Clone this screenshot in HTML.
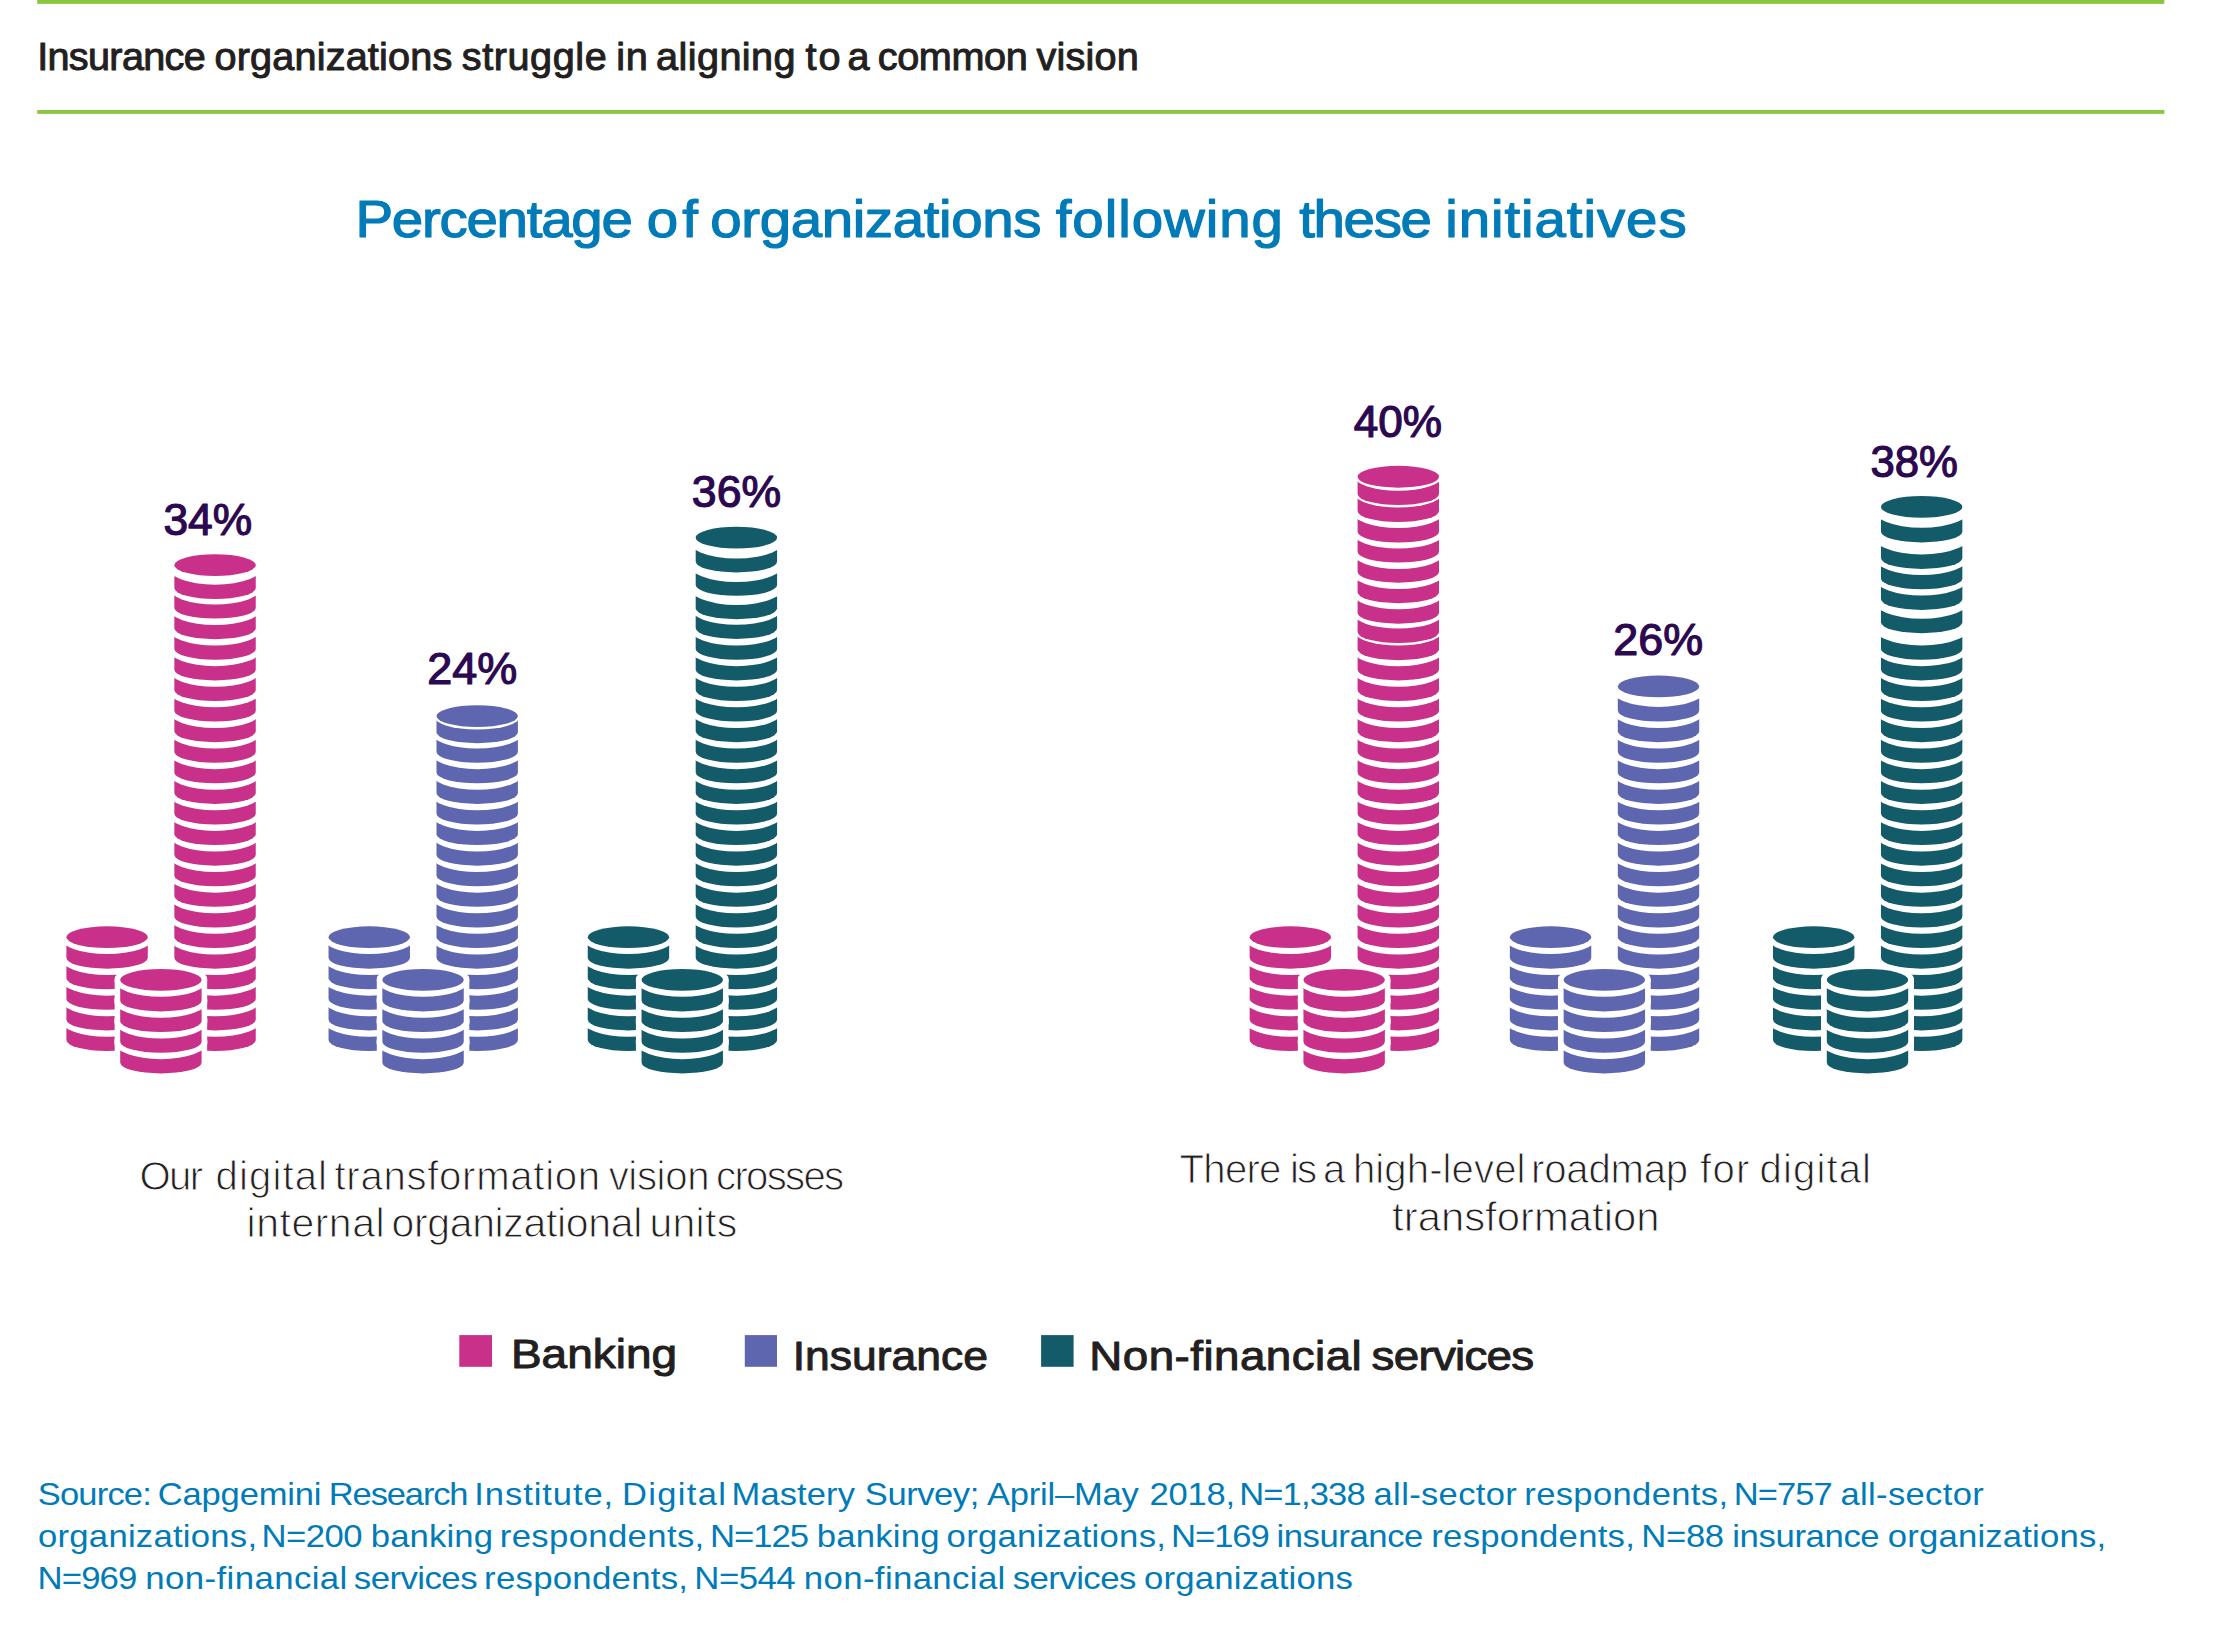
<!DOCTYPE html>
<html lang="en">
<head>
<meta charset="utf-8">
<title>Insurance organizations struggle in aligning to a common vision</title>
<style>
html,body{margin:0;padding:0;background:#fff;}
body{width:2225px;height:1642px;overflow:hidden;}
svg{display:block;}
text{font-family:"Liberation Sans",sans-serif;white-space:pre;}
text.med{stroke-width:1.0px;stroke-linejoin:round;}
text.med2{stroke-width:1.2px;stroke-linejoin:round;}
text.light{stroke:#fff;stroke-width:1.0px;paint-order:fill stroke;}
</style>
</head>
<body>
<svg width="2225" height="1642" viewBox="0 0 2225 1642">
<rect width="2225" height="1642" fill="#fff"/>
<rect x="37.2" y="0" width="2127.1" height="3.9" fill="#8CC63F"/>
<rect x="37.2" y="110" width="2127.1" height="3.9" fill="#8CC63F"/>
<defs><clipPath id="fc"><rect x="-46.5" y="900" width="93" height="200"/></clipPath></defs>
<g id="coins">
<g transform="translate(215.05 0)" fill="#C9308A">
<path d="M-40.7 1019.51 V1040.1 A40.7 10.9 0 0 0 40.7 1040.1 V1019.51 Z"/>
<ellipse fill="#fff" cy="1019.51" rx="47.1" ry="17.3"/>
<path d="M-40.7 998.92 V1019.51 A40.7 10.9 0 0 0 40.7 1019.51 V998.92 Z"/>
<ellipse fill="#fff" cy="998.92" rx="47.1" ry="17.3"/>
<path d="M-40.7 978.33 V998.92 A40.7 10.9 0 0 0 40.7 998.92 V978.33 Z"/>
<ellipse fill="#fff" cy="978.33" rx="47.1" ry="17.3"/>
<path d="M-40.7 957.74 V978.33 A40.7 10.9 0 0 0 40.7 978.33 V957.74 Z"/>
<ellipse fill="#fff" cy="957.74" rx="47.1" ry="17.3"/>
<path d="M-40.7 937.15 V957.74 A40.7 10.9 0 0 0 40.7 957.74 V937.15 Z"/>
<ellipse fill="#fff" cy="937.15" rx="47.1" ry="17.3"/>
<path d="M-40.7 916.56 V937.15 A40.7 10.9 0 0 0 40.7 937.15 V916.56 Z"/>
<ellipse fill="#fff" cy="916.56" rx="47.1" ry="17.3"/>
<path d="M-40.7 895.97 V916.56 A40.7 10.9 0 0 0 40.7 916.56 V895.97 Z"/>
<ellipse fill="#fff" cy="895.97" rx="47.1" ry="17.3"/>
<path d="M-40.7 875.38 V895.97 A40.7 10.9 0 0 0 40.7 895.97 V875.38 Z"/>
<ellipse fill="#fff" cy="875.38" rx="47.1" ry="17.3"/>
<path d="M-40.7 854.79 V875.38 A40.7 10.9 0 0 0 40.7 875.38 V854.79 Z"/>
<ellipse fill="#fff" cy="854.79" rx="47.1" ry="17.3"/>
<path d="M-40.7 834.2 V854.79 A40.7 10.9 0 0 0 40.7 854.79 V834.2 Z"/>
<ellipse fill="#fff" cy="834.2" rx="47.1" ry="17.3"/>
<path d="M-40.7 813.61 V834.2 A40.7 10.9 0 0 0 40.7 834.2 V813.61 Z"/>
<ellipse fill="#fff" cy="813.61" rx="47.1" ry="17.3"/>
<path d="M-40.7 793.02 V813.61 A40.7 10.9 0 0 0 40.7 813.61 V793.02 Z"/>
<ellipse fill="#fff" cy="793.02" rx="47.1" ry="17.3"/>
<path d="M-40.7 772.43 V793.02 A40.7 10.9 0 0 0 40.7 793.02 V772.43 Z"/>
<ellipse fill="#fff" cy="772.43" rx="47.1" ry="17.3"/>
<path d="M-40.7 751.84 V772.43 A40.7 10.9 0 0 0 40.7 772.43 V751.84 Z"/>
<ellipse fill="#fff" cy="751.84" rx="47.1" ry="17.3"/>
<path d="M-40.7 731.25 V751.84 A40.7 10.9 0 0 0 40.7 751.84 V731.25 Z"/>
<ellipse fill="#fff" cy="731.25" rx="47.1" ry="17.3"/>
<path d="M-40.7 710.66 V731.25 A40.7 10.9 0 0 0 40.7 731.25 V710.66 Z"/>
<ellipse fill="#fff" cy="710.66" rx="47.1" ry="17.3"/>
<path d="M-40.7 690.07 V710.66 A40.7 10.9 0 0 0 40.7 710.66 V690.07 Z"/>
<ellipse fill="#fff" cy="690.07" rx="47.1" ry="17.3"/>
<path d="M-40.7 669.48 V690.07 A40.7 10.9 0 0 0 40.7 690.07 V669.48 Z"/>
<ellipse fill="#fff" cy="669.48" rx="47.1" ry="17.3"/>
<path d="M-40.7 648.89 V669.48 A40.7 10.9 0 0 0 40.7 669.48 V648.89 Z"/>
<ellipse fill="#fff" cy="648.89" rx="47.1" ry="17.3"/>
<path d="M-40.7 628.3 V648.89 A40.7 10.9 0 0 0 40.7 648.89 V628.3 Z"/>
<ellipse fill="#fff" cy="628.3" rx="47.1" ry="17.3"/>
<path d="M-40.7 607.71 V628.3 A40.7 10.9 0 0 0 40.7 628.3 V607.71 Z"/>
<ellipse fill="#fff" cy="607.71" rx="47.1" ry="17.3"/>
<path d="M-40.7 588.06 V607.71 A40.7 10.9 0 0 0 40.7 607.71 V588.06 Z"/>
<ellipse fill="#fff" cy="588.06" rx="46.16" ry="16.36"/>
<path d="M-40.7 565.15 V588.06 A40.7 10.9 0 0 0 40.7 588.06 V565.15 Z"/>
<ellipse fill="#fff" cy="565.15" rx="49.3" ry="19.5"/>
<ellipse cy="565.15" rx="40.7" ry="10.9"/>
</g>
<g transform="translate(107.1 0)" fill="#C9308A">
<path d="M-40.7 1019.51 V1040.1 A40.7 10.9 0 0 0 40.7 1040.1 V1019.51 Z"/>
<ellipse fill="#fff" cy="1019.51" rx="47.1" ry="17.3"/>
<path d="M-40.7 998.92 V1019.51 A40.7 10.9 0 0 0 40.7 1019.51 V998.92 Z"/>
<ellipse fill="#fff" cy="998.92" rx="47.1" ry="17.3"/>
<path d="M-40.7 978.33 V998.92 A40.7 10.9 0 0 0 40.7 998.92 V978.33 Z"/>
<ellipse fill="#fff" cy="978.33" rx="47.1" ry="17.3"/>
<path d="M-40.7 957.74 V978.33 A40.7 10.9 0 0 0 40.7 978.33 V957.74 Z"/>
<ellipse fill="#fff" cy="957.74" rx="47.1" ry="17.3"/>
<path d="M-40.7 937.2 V957.74 A40.7 10.9 0 0 0 40.7 957.74 V937.2 Z"/>
<ellipse fill="#fff" cy="937.2" rx="46.7" ry="16.9"/>
<ellipse cy="937.2" rx="40.7" ry="10.9"/>
</g>
<g transform="translate(160.9 0)" fill="#C9308A" clip-path="url(#fc)">
<path fill="#fff" d="M-46.5 979.9 V1062.5 A46.5 16.7 0 0 0 46.5 1062.5 V979.9 Z"/>
<path d="M-40.7 1041.85 V1062.5 A40.7 10.9 0 0 0 40.7 1062.5 V1041.85 Z"/>
<ellipse fill="#fff" cy="1041.85" rx="47.1" ry="17.3"/>
<path d="M-40.7 1021.2 V1041.85 A40.7 10.9 0 0 0 40.7 1041.85 V1021.2 Z"/>
<ellipse fill="#fff" cy="1021.2" rx="47.1" ry="17.3"/>
<path d="M-40.7 1000.55 V1021.2 A40.7 10.9 0 0 0 40.7 1021.2 V1000.55 Z"/>
<ellipse fill="#fff" cy="1000.55" rx="47.1" ry="17.3"/>
<path d="M-40.7 979.9 V1000.55 A40.7 10.9 0 0 0 40.7 1000.55 V979.9 Z"/>
<ellipse fill="#fff" cy="979.9" rx="46.75" ry="16.95"/>
<ellipse cy="979.9" rx="40.7" ry="10.9"/>
</g>
<g transform="translate(477.2 0)" fill="#5E66AF">
<path d="M-40.7 1019.51 V1040.1 A40.7 10.9 0 0 0 40.7 1040.1 V1019.51 Z"/>
<ellipse fill="#fff" cy="1019.51" rx="47.1" ry="17.3"/>
<path d="M-40.7 998.92 V1019.51 A40.7 10.9 0 0 0 40.7 1019.51 V998.92 Z"/>
<ellipse fill="#fff" cy="998.92" rx="47.1" ry="17.3"/>
<path d="M-40.7 978.33 V998.92 A40.7 10.9 0 0 0 40.7 998.92 V978.33 Z"/>
<ellipse fill="#fff" cy="978.33" rx="47.1" ry="17.3"/>
<path d="M-40.7 957.74 V978.33 A40.7 10.9 0 0 0 40.7 978.33 V957.74 Z"/>
<ellipse fill="#fff" cy="957.74" rx="47.1" ry="17.3"/>
<path d="M-40.7 937.15 V957.74 A40.7 10.9 0 0 0 40.7 957.74 V937.15 Z"/>
<ellipse fill="#fff" cy="937.15" rx="47.1" ry="17.3"/>
<path d="M-40.7 916.56 V937.15 A40.7 10.9 0 0 0 40.7 937.15 V916.56 Z"/>
<ellipse fill="#fff" cy="916.56" rx="47.1" ry="17.3"/>
<path d="M-40.7 895.97 V916.56 A40.7 10.9 0 0 0 40.7 916.56 V895.97 Z"/>
<ellipse fill="#fff" cy="895.97" rx="47.1" ry="17.3"/>
<path d="M-40.7 875.38 V895.97 A40.7 10.9 0 0 0 40.7 895.97 V875.38 Z"/>
<ellipse fill="#fff" cy="875.38" rx="47.1" ry="17.3"/>
<path d="M-40.7 854.79 V875.38 A40.7 10.9 0 0 0 40.7 875.38 V854.79 Z"/>
<ellipse fill="#fff" cy="854.79" rx="47.1" ry="17.3"/>
<path d="M-40.7 834.2 V854.79 A40.7 10.9 0 0 0 40.7 854.79 V834.2 Z"/>
<ellipse fill="#fff" cy="834.2" rx="47.1" ry="17.3"/>
<path d="M-40.7 813.61 V834.2 A40.7 10.9 0 0 0 40.7 834.2 V813.61 Z"/>
<ellipse fill="#fff" cy="813.61" rx="47.1" ry="17.3"/>
<path d="M-40.7 793.02 V813.61 A40.7 10.9 0 0 0 40.7 813.61 V793.02 Z"/>
<ellipse fill="#fff" cy="793.02" rx="47.1" ry="17.3"/>
<path d="M-40.7 772.43 V793.02 A40.7 10.9 0 0 0 40.7 793.02 V772.43 Z"/>
<ellipse fill="#fff" cy="772.43" rx="47.1" ry="17.3"/>
<path d="M-40.7 751.84 V772.43 A40.7 10.9 0 0 0 40.7 772.43 V751.84 Z"/>
<ellipse fill="#fff" cy="751.84" rx="47.1" ry="17.3"/>
<path d="M-40.7 732.3 V751.84 A40.7 10.9 0 0 0 40.7 751.84 V732.3 Z"/>
<ellipse fill="#fff" cy="732.3" rx="46.05" ry="16.25"/>
<path d="M-40.7 716.1 V732.3 A40.7 10.9 0 0 0 40.7 732.3 V716.1 Z"/>
<ellipse fill="#fff" cy="716.1" rx="43.3" ry="13.5"/>
<ellipse cy="716.1" rx="40.7" ry="10.9"/>
</g>
<g transform="translate(369.25 0)" fill="#5E66AF">
<path d="M-40.7 1019.51 V1040.1 A40.7 10.9 0 0 0 40.7 1040.1 V1019.51 Z"/>
<ellipse fill="#fff" cy="1019.51" rx="47.1" ry="17.3"/>
<path d="M-40.7 998.92 V1019.51 A40.7 10.9 0 0 0 40.7 1019.51 V998.92 Z"/>
<ellipse fill="#fff" cy="998.92" rx="47.1" ry="17.3"/>
<path d="M-40.7 978.33 V998.92 A40.7 10.9 0 0 0 40.7 998.92 V978.33 Z"/>
<ellipse fill="#fff" cy="978.33" rx="47.1" ry="17.3"/>
<path d="M-40.7 957.74 V978.33 A40.7 10.9 0 0 0 40.7 978.33 V957.74 Z"/>
<ellipse fill="#fff" cy="957.74" rx="47.1" ry="17.3"/>
<path d="M-40.7 937.2 V957.74 A40.7 10.9 0 0 0 40.7 957.74 V937.2 Z"/>
<ellipse fill="#fff" cy="937.2" rx="46.7" ry="16.9"/>
<ellipse cy="937.2" rx="40.7" ry="10.9"/>
</g>
<g transform="translate(423.05 0)" fill="#5E66AF" clip-path="url(#fc)">
<path fill="#fff" d="M-46.5 979.9 V1062.5 A46.5 16.7 0 0 0 46.5 1062.5 V979.9 Z"/>
<path d="M-40.7 1041.85 V1062.5 A40.7 10.9 0 0 0 40.7 1062.5 V1041.85 Z"/>
<ellipse fill="#fff" cy="1041.85" rx="47.1" ry="17.3"/>
<path d="M-40.7 1021.2 V1041.85 A40.7 10.9 0 0 0 40.7 1041.85 V1021.2 Z"/>
<ellipse fill="#fff" cy="1021.2" rx="47.1" ry="17.3"/>
<path d="M-40.7 1000.55 V1021.2 A40.7 10.9 0 0 0 40.7 1021.2 V1000.55 Z"/>
<ellipse fill="#fff" cy="1000.55" rx="47.1" ry="17.3"/>
<path d="M-40.7 979.9 V1000.55 A40.7 10.9 0 0 0 40.7 1000.55 V979.9 Z"/>
<ellipse fill="#fff" cy="979.9" rx="46.75" ry="16.95"/>
<ellipse cy="979.9" rx="40.7" ry="10.9"/>
</g>
<g transform="translate(736.4 0)" fill="#145B69">
<path d="M-40.7 1019.51 V1040.1 A40.7 10.9 0 0 0 40.7 1040.1 V1019.51 Z"/>
<ellipse fill="#fff" cy="1019.51" rx="47.1" ry="17.3"/>
<path d="M-40.7 998.92 V1019.51 A40.7 10.9 0 0 0 40.7 1019.51 V998.92 Z"/>
<ellipse fill="#fff" cy="998.92" rx="47.1" ry="17.3"/>
<path d="M-40.7 978.33 V998.92 A40.7 10.9 0 0 0 40.7 998.92 V978.33 Z"/>
<ellipse fill="#fff" cy="978.33" rx="47.1" ry="17.3"/>
<path d="M-40.7 957.74 V978.33 A40.7 10.9 0 0 0 40.7 978.33 V957.74 Z"/>
<ellipse fill="#fff" cy="957.74" rx="47.1" ry="17.3"/>
<path d="M-40.7 937.15 V957.74 A40.7 10.9 0 0 0 40.7 957.74 V937.15 Z"/>
<ellipse fill="#fff" cy="937.15" rx="47.1" ry="17.3"/>
<path d="M-40.7 916.56 V937.15 A40.7 10.9 0 0 0 40.7 937.15 V916.56 Z"/>
<ellipse fill="#fff" cy="916.56" rx="47.1" ry="17.3"/>
<path d="M-40.7 895.97 V916.56 A40.7 10.9 0 0 0 40.7 916.56 V895.97 Z"/>
<ellipse fill="#fff" cy="895.97" rx="47.1" ry="17.3"/>
<path d="M-40.7 875.38 V895.97 A40.7 10.9 0 0 0 40.7 895.97 V875.38 Z"/>
<ellipse fill="#fff" cy="875.38" rx="47.1" ry="17.3"/>
<path d="M-40.7 854.79 V875.38 A40.7 10.9 0 0 0 40.7 875.38 V854.79 Z"/>
<ellipse fill="#fff" cy="854.79" rx="47.1" ry="17.3"/>
<path d="M-40.7 834.2 V854.79 A40.7 10.9 0 0 0 40.7 854.79 V834.2 Z"/>
<ellipse fill="#fff" cy="834.2" rx="47.1" ry="17.3"/>
<path d="M-40.7 813.61 V834.2 A40.7 10.9 0 0 0 40.7 834.2 V813.61 Z"/>
<ellipse fill="#fff" cy="813.61" rx="47.1" ry="17.3"/>
<path d="M-40.7 793.02 V813.61 A40.7 10.9 0 0 0 40.7 813.61 V793.02 Z"/>
<ellipse fill="#fff" cy="793.02" rx="47.1" ry="17.3"/>
<path d="M-40.7 772.43 V793.02 A40.7 10.9 0 0 0 40.7 793.02 V772.43 Z"/>
<ellipse fill="#fff" cy="772.43" rx="47.1" ry="17.3"/>
<path d="M-40.7 751.84 V772.43 A40.7 10.9 0 0 0 40.7 772.43 V751.84 Z"/>
<ellipse fill="#fff" cy="751.84" rx="47.1" ry="17.3"/>
<path d="M-40.7 731.25 V751.84 A40.7 10.9 0 0 0 40.7 751.84 V731.25 Z"/>
<ellipse fill="#fff" cy="731.25" rx="47.1" ry="17.3"/>
<path d="M-40.7 710.66 V731.25 A40.7 10.9 0 0 0 40.7 731.25 V710.66 Z"/>
<ellipse fill="#fff" cy="710.66" rx="47.1" ry="17.3"/>
<path d="M-40.7 690.07 V710.66 A40.7 10.9 0 0 0 40.7 710.66 V690.07 Z"/>
<ellipse fill="#fff" cy="690.07" rx="47.1" ry="17.3"/>
<path d="M-40.7 669.48 V690.07 A40.7 10.9 0 0 0 40.7 690.07 V669.48 Z"/>
<ellipse fill="#fff" cy="669.48" rx="47.1" ry="17.3"/>
<path d="M-40.7 648.89 V669.48 A40.7 10.9 0 0 0 40.7 669.48 V648.89 Z"/>
<ellipse fill="#fff" cy="648.89" rx="47.1" ry="17.3"/>
<path d="M-40.7 628 V648.89 A40.7 10.9 0 0 0 40.7 648.89 V628 Z"/>
<ellipse fill="#fff" cy="628" rx="47.4" ry="17.6"/>
<path d="M-40.7 608.3 V628 A40.7 10.9 0 0 0 40.7 628 V608.3 Z"/>
<ellipse fill="#fff" cy="608.3" rx="46.2" ry="16.4"/>
<path d="M-40.7 584.95 V608.3 A40.7 10.9 0 0 0 40.7 608.3 V584.95 Z"/>
<ellipse fill="#fff" cy="584.95" rx="49.75" ry="19.95"/>
<path d="M-40.7 561.5 V584.95 A40.7 10.9 0 0 0 40.7 584.95 V561.5 Z"/>
<ellipse fill="#fff" cy="561.5" rx="50.3" ry="20.5"/>
<path d="M-40.7 537.65 V561.5 A40.7 10.9 0 0 0 40.7 561.5 V537.65 Z"/>
<ellipse fill="#fff" cy="537.65" rx="50.75" ry="20.95"/>
<ellipse cy="537.65" rx="40.7" ry="10.9"/>
</g>
<g transform="translate(628.45 0)" fill="#145B69">
<path d="M-40.7 1019.51 V1040.1 A40.7 10.9 0 0 0 40.7 1040.1 V1019.51 Z"/>
<ellipse fill="#fff" cy="1019.51" rx="47.1" ry="17.3"/>
<path d="M-40.7 998.92 V1019.51 A40.7 10.9 0 0 0 40.7 1019.51 V998.92 Z"/>
<ellipse fill="#fff" cy="998.92" rx="47.1" ry="17.3"/>
<path d="M-40.7 978.33 V998.92 A40.7 10.9 0 0 0 40.7 998.92 V978.33 Z"/>
<ellipse fill="#fff" cy="978.33" rx="47.1" ry="17.3"/>
<path d="M-40.7 957.74 V978.33 A40.7 10.9 0 0 0 40.7 978.33 V957.74 Z"/>
<ellipse fill="#fff" cy="957.74" rx="47.1" ry="17.3"/>
<path d="M-40.7 937.2 V957.74 A40.7 10.9 0 0 0 40.7 957.74 V937.2 Z"/>
<ellipse fill="#fff" cy="937.2" rx="46.7" ry="16.9"/>
<ellipse cy="937.2" rx="40.7" ry="10.9"/>
</g>
<g transform="translate(682.25 0)" fill="#145B69" clip-path="url(#fc)">
<path fill="#fff" d="M-46.5 979.9 V1062.5 A46.5 16.7 0 0 0 46.5 1062.5 V979.9 Z"/>
<path d="M-40.7 1041.85 V1062.5 A40.7 10.9 0 0 0 40.7 1062.5 V1041.85 Z"/>
<ellipse fill="#fff" cy="1041.85" rx="47.1" ry="17.3"/>
<path d="M-40.7 1021.2 V1041.85 A40.7 10.9 0 0 0 40.7 1041.85 V1021.2 Z"/>
<ellipse fill="#fff" cy="1021.2" rx="47.1" ry="17.3"/>
<path d="M-40.7 1000.55 V1021.2 A40.7 10.9 0 0 0 40.7 1021.2 V1000.55 Z"/>
<ellipse fill="#fff" cy="1000.55" rx="47.1" ry="17.3"/>
<path d="M-40.7 979.9 V1000.55 A40.7 10.9 0 0 0 40.7 1000.55 V979.9 Z"/>
<ellipse fill="#fff" cy="979.9" rx="46.75" ry="16.95"/>
<ellipse cy="979.9" rx="40.7" ry="10.9"/>
</g>
<g transform="translate(1398.3 0)" fill="#C9308A">
<path d="M-40.7 1019.51 V1040.1 A40.7 10.9 0 0 0 40.7 1040.1 V1019.51 Z"/>
<ellipse fill="#fff" cy="1019.51" rx="47.1" ry="17.3"/>
<path d="M-40.7 998.92 V1019.51 A40.7 10.9 0 0 0 40.7 1019.51 V998.92 Z"/>
<ellipse fill="#fff" cy="998.92" rx="47.1" ry="17.3"/>
<path d="M-40.7 978.33 V998.92 A40.7 10.9 0 0 0 40.7 998.92 V978.33 Z"/>
<ellipse fill="#fff" cy="978.33" rx="47.1" ry="17.3"/>
<path d="M-40.7 957.74 V978.33 A40.7 10.9 0 0 0 40.7 978.33 V957.74 Z"/>
<ellipse fill="#fff" cy="957.74" rx="47.1" ry="17.3"/>
<path d="M-40.7 937.15 V957.74 A40.7 10.9 0 0 0 40.7 957.74 V937.15 Z"/>
<ellipse fill="#fff" cy="937.15" rx="47.1" ry="17.3"/>
<path d="M-40.7 916.56 V937.15 A40.7 10.9 0 0 0 40.7 937.15 V916.56 Z"/>
<ellipse fill="#fff" cy="916.56" rx="47.1" ry="17.3"/>
<path d="M-40.7 895.97 V916.56 A40.7 10.9 0 0 0 40.7 916.56 V895.97 Z"/>
<ellipse fill="#fff" cy="895.97" rx="47.1" ry="17.3"/>
<path d="M-40.7 875.38 V895.97 A40.7 10.9 0 0 0 40.7 895.97 V875.38 Z"/>
<ellipse fill="#fff" cy="875.38" rx="47.1" ry="17.3"/>
<path d="M-40.7 854.79 V875.38 A40.7 10.9 0 0 0 40.7 875.38 V854.79 Z"/>
<ellipse fill="#fff" cy="854.79" rx="47.1" ry="17.3"/>
<path d="M-40.7 834.2 V854.79 A40.7 10.9 0 0 0 40.7 854.79 V834.2 Z"/>
<ellipse fill="#fff" cy="834.2" rx="47.1" ry="17.3"/>
<path d="M-40.7 813.61 V834.2 A40.7 10.9 0 0 0 40.7 834.2 V813.61 Z"/>
<ellipse fill="#fff" cy="813.61" rx="47.1" ry="17.3"/>
<path d="M-40.7 793.02 V813.61 A40.7 10.9 0 0 0 40.7 813.61 V793.02 Z"/>
<ellipse fill="#fff" cy="793.02" rx="47.1" ry="17.3"/>
<path d="M-40.7 772.43 V793.02 A40.7 10.9 0 0 0 40.7 793.02 V772.43 Z"/>
<ellipse fill="#fff" cy="772.43" rx="47.1" ry="17.3"/>
<path d="M-40.7 751.84 V772.43 A40.7 10.9 0 0 0 40.7 772.43 V751.84 Z"/>
<ellipse fill="#fff" cy="751.84" rx="47.1" ry="17.3"/>
<path d="M-40.7 731.25 V751.84 A40.7 10.9 0 0 0 40.7 751.84 V731.25 Z"/>
<ellipse fill="#fff" cy="731.25" rx="47.1" ry="17.3"/>
<path d="M-40.7 710.66 V731.25 A40.7 10.9 0 0 0 40.7 731.25 V710.66 Z"/>
<ellipse fill="#fff" cy="710.66" rx="47.1" ry="17.3"/>
<path d="M-40.7 690.07 V710.66 A40.7 10.9 0 0 0 40.7 710.66 V690.07 Z"/>
<ellipse fill="#fff" cy="690.07" rx="47.1" ry="17.3"/>
<path d="M-40.7 669.48 V690.07 A40.7 10.9 0 0 0 40.7 690.07 V669.48 Z"/>
<ellipse fill="#fff" cy="669.48" rx="47.1" ry="17.3"/>
<path d="M-40.7 649.3 V669.48 A40.7 10.9 0 0 0 40.7 669.48 V649.3 Z"/>
<ellipse fill="#fff" cy="649.3" rx="46.69" ry="16.89"/>
<path d="M-40.7 632.1 V649.3 A40.7 10.9 0 0 0 40.7 649.3 V632.1 Z"/>
<ellipse fill="#fff" cy="632.1" rx="43.2" ry="13.4"/>
<path d="M-40.7 612.8 V632.1 A40.7 10.9 0 0 0 40.7 632.1 V612.8 Z"/>
<ellipse fill="#fff" cy="612.8" rx="45.5" ry="15.7"/>
<path d="M-40.7 592.25 V612.8 A40.7 10.9 0 0 0 40.7 612.8 V592.25 Z"/>
<ellipse fill="#fff" cy="592.25" rx="46.75" ry="16.95"/>
<path d="M-40.7 571.8 V592.25 A40.7 10.9 0 0 0 40.7 592.25 V571.8 Z"/>
<ellipse fill="#fff" cy="571.8" rx="47.1" ry="17.3"/>
<path d="M-40.7 551.7 V571.8 A40.7 10.9 0 0 0 40.7 571.8 V551.7 Z"/>
<ellipse fill="#fff" cy="551.7" rx="47.1" ry="17.3"/>
<path d="M-40.7 531.7 V551.7 A40.7 10.9 0 0 0 40.7 551.7 V531.7 Z"/>
<ellipse fill="#fff" cy="531.7" rx="46.7" ry="16.9"/>
<path d="M-40.7 511.1 V531.7 A40.7 10.9 0 0 0 40.7 531.7 V511.1 Z"/>
<ellipse fill="#fff" cy="511.1" rx="46.7" ry="16.9"/>
<path d="M-40.7 494.1 V511.1 A40.7 10.9 0 0 0 40.7 511.1 V494.1 Z"/>
<ellipse fill="#fff" cy="494.1" rx="43.1" ry="13.3"/>
<path d="M-40.7 476.75 V494.1 A40.7 10.9 0 0 0 40.7 494.1 V476.75 Z"/>
<ellipse fill="#fff" cy="476.75" rx="43.75" ry="13.95"/>
<ellipse cy="476.75" rx="40.7" ry="10.9"/>
</g>
<g transform="translate(1290.35 0)" fill="#C9308A">
<path d="M-40.7 1019.51 V1040.1 A40.7 10.9 0 0 0 40.7 1040.1 V1019.51 Z"/>
<ellipse fill="#fff" cy="1019.51" rx="47.1" ry="17.3"/>
<path d="M-40.7 998.92 V1019.51 A40.7 10.9 0 0 0 40.7 1019.51 V998.92 Z"/>
<ellipse fill="#fff" cy="998.92" rx="47.1" ry="17.3"/>
<path d="M-40.7 978.33 V998.92 A40.7 10.9 0 0 0 40.7 998.92 V978.33 Z"/>
<ellipse fill="#fff" cy="978.33" rx="47.1" ry="17.3"/>
<path d="M-40.7 957.74 V978.33 A40.7 10.9 0 0 0 40.7 978.33 V957.74 Z"/>
<ellipse fill="#fff" cy="957.74" rx="47.1" ry="17.3"/>
<path d="M-40.7 937.2 V957.74 A40.7 10.9 0 0 0 40.7 957.74 V937.2 Z"/>
<ellipse fill="#fff" cy="937.2" rx="46.7" ry="16.9"/>
<ellipse cy="937.2" rx="40.7" ry="10.9"/>
</g>
<g transform="translate(1344.15 0)" fill="#C9308A" clip-path="url(#fc)">
<path fill="#fff" d="M-46.5 979.9 V1062.5 A46.5 16.7 0 0 0 46.5 1062.5 V979.9 Z"/>
<path d="M-40.7 1041.85 V1062.5 A40.7 10.9 0 0 0 40.7 1062.5 V1041.85 Z"/>
<ellipse fill="#fff" cy="1041.85" rx="47.1" ry="17.3"/>
<path d="M-40.7 1021.2 V1041.85 A40.7 10.9 0 0 0 40.7 1041.85 V1021.2 Z"/>
<ellipse fill="#fff" cy="1021.2" rx="47.1" ry="17.3"/>
<path d="M-40.7 1000.55 V1021.2 A40.7 10.9 0 0 0 40.7 1021.2 V1000.55 Z"/>
<ellipse fill="#fff" cy="1000.55" rx="47.1" ry="17.3"/>
<path d="M-40.7 979.9 V1000.55 A40.7 10.9 0 0 0 40.7 1000.55 V979.9 Z"/>
<ellipse fill="#fff" cy="979.9" rx="46.75" ry="16.95"/>
<ellipse cy="979.9" rx="40.7" ry="10.9"/>
</g>
<g transform="translate(1658.5 0)" fill="#5E66AF">
<path d="M-40.7 1019.51 V1040.1 A40.7 10.9 0 0 0 40.7 1040.1 V1019.51 Z"/>
<ellipse fill="#fff" cy="1019.51" rx="47.1" ry="17.3"/>
<path d="M-40.7 998.92 V1019.51 A40.7 10.9 0 0 0 40.7 1019.51 V998.92 Z"/>
<ellipse fill="#fff" cy="998.92" rx="47.1" ry="17.3"/>
<path d="M-40.7 978.33 V998.92 A40.7 10.9 0 0 0 40.7 998.92 V978.33 Z"/>
<ellipse fill="#fff" cy="978.33" rx="47.1" ry="17.3"/>
<path d="M-40.7 957.74 V978.33 A40.7 10.9 0 0 0 40.7 978.33 V957.74 Z"/>
<ellipse fill="#fff" cy="957.74" rx="47.1" ry="17.3"/>
<path d="M-40.7 937.15 V957.74 A40.7 10.9 0 0 0 40.7 957.74 V937.15 Z"/>
<ellipse fill="#fff" cy="937.15" rx="47.1" ry="17.3"/>
<path d="M-40.7 916.56 V937.15 A40.7 10.9 0 0 0 40.7 937.15 V916.56 Z"/>
<ellipse fill="#fff" cy="916.56" rx="47.1" ry="17.3"/>
<path d="M-40.7 895.97 V916.56 A40.7 10.9 0 0 0 40.7 916.56 V895.97 Z"/>
<ellipse fill="#fff" cy="895.97" rx="47.1" ry="17.3"/>
<path d="M-40.7 875.38 V895.97 A40.7 10.9 0 0 0 40.7 895.97 V875.38 Z"/>
<ellipse fill="#fff" cy="875.38" rx="47.1" ry="17.3"/>
<path d="M-40.7 854.79 V875.38 A40.7 10.9 0 0 0 40.7 875.38 V854.79 Z"/>
<ellipse fill="#fff" cy="854.79" rx="47.1" ry="17.3"/>
<path d="M-40.7 834.2 V854.79 A40.7 10.9 0 0 0 40.7 854.79 V834.2 Z"/>
<ellipse fill="#fff" cy="834.2" rx="47.1" ry="17.3"/>
<path d="M-40.7 813.61 V834.2 A40.7 10.9 0 0 0 40.7 834.2 V813.61 Z"/>
<ellipse fill="#fff" cy="813.61" rx="47.1" ry="17.3"/>
<path d="M-40.7 793.02 V813.61 A40.7 10.9 0 0 0 40.7 813.61 V793.02 Z"/>
<ellipse fill="#fff" cy="793.02" rx="47.1" ry="17.3"/>
<path d="M-40.7 772.43 V793.02 A40.7 10.9 0 0 0 40.7 793.02 V772.43 Z"/>
<ellipse fill="#fff" cy="772.43" rx="47.1" ry="17.3"/>
<path d="M-40.7 751.84 V772.43 A40.7 10.9 0 0 0 40.7 772.43 V751.84 Z"/>
<ellipse fill="#fff" cy="751.84" rx="47.1" ry="17.3"/>
<path d="M-40.7 731.25 V751.84 A40.7 10.9 0 0 0 40.7 751.84 V731.25 Z"/>
<ellipse fill="#fff" cy="731.25" rx="47.1" ry="17.3"/>
<path d="M-40.7 710.6 V731.25 A40.7 10.9 0 0 0 40.7 731.25 V710.6 Z"/>
<ellipse fill="#fff" cy="710.6" rx="47.16" ry="17.36"/>
<path d="M-40.7 686.45 V710.6 A40.7 10.9 0 0 0 40.7 710.6 V686.45 Z"/>
<ellipse fill="#fff" cy="686.45" rx="50.25" ry="20.45"/>
<ellipse cy="686.45" rx="40.7" ry="10.9"/>
</g>
<g transform="translate(1550.55 0)" fill="#5E66AF">
<path d="M-40.7 1019.51 V1040.1 A40.7 10.9 0 0 0 40.7 1040.1 V1019.51 Z"/>
<ellipse fill="#fff" cy="1019.51" rx="47.1" ry="17.3"/>
<path d="M-40.7 998.92 V1019.51 A40.7 10.9 0 0 0 40.7 1019.51 V998.92 Z"/>
<ellipse fill="#fff" cy="998.92" rx="47.1" ry="17.3"/>
<path d="M-40.7 978.33 V998.92 A40.7 10.9 0 0 0 40.7 998.92 V978.33 Z"/>
<ellipse fill="#fff" cy="978.33" rx="47.1" ry="17.3"/>
<path d="M-40.7 957.74 V978.33 A40.7 10.9 0 0 0 40.7 978.33 V957.74 Z"/>
<ellipse fill="#fff" cy="957.74" rx="47.1" ry="17.3"/>
<path d="M-40.7 937.2 V957.74 A40.7 10.9 0 0 0 40.7 957.74 V937.2 Z"/>
<ellipse fill="#fff" cy="937.2" rx="46.7" ry="16.9"/>
<ellipse cy="937.2" rx="40.7" ry="10.9"/>
</g>
<g transform="translate(1604.35 0)" fill="#5E66AF" clip-path="url(#fc)">
<path fill="#fff" d="M-46.5 979.9 V1062.5 A46.5 16.7 0 0 0 46.5 1062.5 V979.9 Z"/>
<path d="M-40.7 1041.85 V1062.5 A40.7 10.9 0 0 0 40.7 1062.5 V1041.85 Z"/>
<ellipse fill="#fff" cy="1041.85" rx="47.1" ry="17.3"/>
<path d="M-40.7 1021.2 V1041.85 A40.7 10.9 0 0 0 40.7 1041.85 V1021.2 Z"/>
<ellipse fill="#fff" cy="1021.2" rx="47.1" ry="17.3"/>
<path d="M-40.7 1000.55 V1021.2 A40.7 10.9 0 0 0 40.7 1021.2 V1000.55 Z"/>
<ellipse fill="#fff" cy="1000.55" rx="47.1" ry="17.3"/>
<path d="M-40.7 979.9 V1000.55 A40.7 10.9 0 0 0 40.7 1000.55 V979.9 Z"/>
<ellipse fill="#fff" cy="979.9" rx="46.75" ry="16.95"/>
<ellipse cy="979.9" rx="40.7" ry="10.9"/>
</g>
<g transform="translate(1921.65 0)" fill="#145B69">
<path d="M-40.7 1019.51 V1040.1 A40.7 10.9 0 0 0 40.7 1040.1 V1019.51 Z"/>
<ellipse fill="#fff" cy="1019.51" rx="47.1" ry="17.3"/>
<path d="M-40.7 998.92 V1019.51 A40.7 10.9 0 0 0 40.7 1019.51 V998.92 Z"/>
<ellipse fill="#fff" cy="998.92" rx="47.1" ry="17.3"/>
<path d="M-40.7 978.33 V998.92 A40.7 10.9 0 0 0 40.7 998.92 V978.33 Z"/>
<ellipse fill="#fff" cy="978.33" rx="47.1" ry="17.3"/>
<path d="M-40.7 957.74 V978.33 A40.7 10.9 0 0 0 40.7 978.33 V957.74 Z"/>
<ellipse fill="#fff" cy="957.74" rx="47.1" ry="17.3"/>
<path d="M-40.7 937.15 V957.74 A40.7 10.9 0 0 0 40.7 957.74 V937.15 Z"/>
<ellipse fill="#fff" cy="937.15" rx="47.1" ry="17.3"/>
<path d="M-40.7 916.56 V937.15 A40.7 10.9 0 0 0 40.7 937.15 V916.56 Z"/>
<ellipse fill="#fff" cy="916.56" rx="47.1" ry="17.3"/>
<path d="M-40.7 895.97 V916.56 A40.7 10.9 0 0 0 40.7 916.56 V895.97 Z"/>
<ellipse fill="#fff" cy="895.97" rx="47.1" ry="17.3"/>
<path d="M-40.7 875.38 V895.97 A40.7 10.9 0 0 0 40.7 895.97 V875.38 Z"/>
<ellipse fill="#fff" cy="875.38" rx="47.1" ry="17.3"/>
<path d="M-40.7 854.79 V875.38 A40.7 10.9 0 0 0 40.7 875.38 V854.79 Z"/>
<ellipse fill="#fff" cy="854.79" rx="47.1" ry="17.3"/>
<path d="M-40.7 834.2 V854.79 A40.7 10.9 0 0 0 40.7 854.79 V834.2 Z"/>
<ellipse fill="#fff" cy="834.2" rx="47.1" ry="17.3"/>
<path d="M-40.7 813.61 V834.2 A40.7 10.9 0 0 0 40.7 834.2 V813.61 Z"/>
<ellipse fill="#fff" cy="813.61" rx="47.1" ry="17.3"/>
<path d="M-40.7 793.02 V813.61 A40.7 10.9 0 0 0 40.7 813.61 V793.02 Z"/>
<ellipse fill="#fff" cy="793.02" rx="47.1" ry="17.3"/>
<path d="M-40.7 772.43 V793.02 A40.7 10.9 0 0 0 40.7 793.02 V772.43 Z"/>
<ellipse fill="#fff" cy="772.43" rx="47.1" ry="17.3"/>
<path d="M-40.7 751.84 V772.43 A40.7 10.9 0 0 0 40.7 772.43 V751.84 Z"/>
<ellipse fill="#fff" cy="751.84" rx="47.1" ry="17.3"/>
<path d="M-40.7 731.25 V751.84 A40.7 10.9 0 0 0 40.7 751.84 V731.25 Z"/>
<ellipse fill="#fff" cy="731.25" rx="47.1" ry="17.3"/>
<path d="M-40.7 710.66 V731.25 A40.7 10.9 0 0 0 40.7 731.25 V710.66 Z"/>
<ellipse fill="#fff" cy="710.66" rx="47.1" ry="17.3"/>
<path d="M-40.7 690.07 V710.66 A40.7 10.9 0 0 0 40.7 710.66 V690.07 Z"/>
<ellipse fill="#fff" cy="690.07" rx="47.1" ry="17.3"/>
<path d="M-40.7 669.48 V690.07 A40.7 10.9 0 0 0 40.7 690.07 V669.48 Z"/>
<ellipse fill="#fff" cy="669.48" rx="47.1" ry="17.3"/>
<path d="M-40.7 648.9 V669.48 A40.7 10.9 0 0 0 40.7 669.48 V648.9 Z"/>
<ellipse fill="#fff" cy="648.9" rx="47.09" ry="17.29"/>
<path d="M-40.7 622.3 V648.9 A40.7 10.9 0 0 0 40.7 648.9 V622.3 Z"/>
<ellipse fill="#fff" cy="622.3" rx="53" ry="23.2"/>
<path d="M-40.7 599 V622.3 A40.7 10.9 0 0 0 40.7 622.3 V599 Z"/>
<ellipse fill="#fff" cy="599" rx="49.6" ry="19.8"/>
<path d="M-40.7 578.4 V599 A40.7 10.9 0 0 0 40.7 599 V578.4 Z"/>
<ellipse fill="#fff" cy="578.4" rx="46.9" ry="17.1"/>
<path d="M-40.7 558 V578.4 A40.7 10.9 0 0 0 40.7 578.4 V558 Z"/>
<ellipse fill="#fff" cy="558" rx="46.9" ry="17.1"/>
<path d="M-40.7 531.5 V558 A40.7 10.9 0 0 0 40.7 558 V531.5 Z"/>
<ellipse fill="#fff" cy="531.5" rx="52.9" ry="23.1"/>
<path d="M-40.7 506.9 V531.5 A40.7 10.9 0 0 0 40.7 531.5 V506.9 Z"/>
<ellipse fill="#fff" cy="506.9" rx="50.7" ry="20.9"/>
<ellipse cy="506.9" rx="40.7" ry="10.9"/>
</g>
<g transform="translate(1813.7 0)" fill="#145B69">
<path d="M-40.7 1019.51 V1040.1 A40.7 10.9 0 0 0 40.7 1040.1 V1019.51 Z"/>
<ellipse fill="#fff" cy="1019.51" rx="47.1" ry="17.3"/>
<path d="M-40.7 998.92 V1019.51 A40.7 10.9 0 0 0 40.7 1019.51 V998.92 Z"/>
<ellipse fill="#fff" cy="998.92" rx="47.1" ry="17.3"/>
<path d="M-40.7 978.33 V998.92 A40.7 10.9 0 0 0 40.7 998.92 V978.33 Z"/>
<ellipse fill="#fff" cy="978.33" rx="47.1" ry="17.3"/>
<path d="M-40.7 957.74 V978.33 A40.7 10.9 0 0 0 40.7 978.33 V957.74 Z"/>
<ellipse fill="#fff" cy="957.74" rx="47.1" ry="17.3"/>
<path d="M-40.7 937.2 V957.74 A40.7 10.9 0 0 0 40.7 957.74 V937.2 Z"/>
<ellipse fill="#fff" cy="937.2" rx="46.7" ry="16.9"/>
<ellipse cy="937.2" rx="40.7" ry="10.9"/>
</g>
<g transform="translate(1867.5 0)" fill="#145B69" clip-path="url(#fc)">
<path fill="#fff" d="M-46.5 979.9 V1062.5 A46.5 16.7 0 0 0 46.5 1062.5 V979.9 Z"/>
<path d="M-40.7 1041.85 V1062.5 A40.7 10.9 0 0 0 40.7 1062.5 V1041.85 Z"/>
<ellipse fill="#fff" cy="1041.85" rx="47.1" ry="17.3"/>
<path d="M-40.7 1021.2 V1041.85 A40.7 10.9 0 0 0 40.7 1041.85 V1021.2 Z"/>
<ellipse fill="#fff" cy="1021.2" rx="47.1" ry="17.3"/>
<path d="M-40.7 1000.55 V1021.2 A40.7 10.9 0 0 0 40.7 1021.2 V1000.55 Z"/>
<ellipse fill="#fff" cy="1000.55" rx="47.1" ry="17.3"/>
<path d="M-40.7 979.9 V1000.55 A40.7 10.9 0 0 0 40.7 1000.55 V979.9 Z"/>
<ellipse fill="#fff" cy="979.9" rx="46.75" ry="16.95"/>
<ellipse cy="979.9" rx="40.7" ry="10.9"/>
</g>
</g>
<g id="labels">
<text transform="scale(1.0299 1)" y="69.6" font-size="38.5" fill="#231F20" class="med" stroke="#231F20"><tspan x="36.08" textLength="163.76">Insurance</tspan> <tspan x="208.25" textLength="230.88">organizations</tspan> <tspan x="448.39" textLength="140.76">struggle</tspan> <tspan x="598.36" textLength="30.67">in</tspan> <tspan x="636.88" textLength="135.68">aligning</tspan> <tspan x="782.13" textLength="34.12">to</tspan> <tspan x="822.99">a</tspan> <tspan x="852.34" textLength="145.54">common</tspan> <tspan x="1006.48" textLength="99.27">vision</tspan></text>
<text transform="scale(1.0959 1)" y="237" font-size="51.5" fill="#007BB8" class="med2" stroke="#007BB8"><tspan x="324.29" textLength="253.16">Percentage</tspan> <tspan x="590.06" textLength="46.85">of</tspan> <tspan x="648.09" textLength="302.23">organizations</tspan> <tspan x="963.33" textLength="207.3">following</tspan> <tspan x="1185.51" textLength="121.15">these</tspan> <tspan x="1318.79" textLength="220.23">initiatives</tspan></text>
<text transform="scale(0.9966 1)" y="535.3" font-size="44.5" fill="#2C0850" class="med2" stroke="#2C0850"><tspan x="163.97" textLength="89.08">34%</tspan></text>
<text transform="scale(1.0099 1)" y="683.8" font-size="44.5" fill="#2C0850" class="med2" stroke="#2C0850"><tspan x="422.96" textLength="89.08">24%</tspan></text>
<text transform="scale(1.0011 1)" y="507.5" font-size="44.5" fill="#2C0850" class="med2" stroke="#2C0850"><tspan x="691.1" textLength="89.08">36%</tspan></text>
<text transform="scale(0.9920 1)" y="437.1" font-size="44.5" fill="#2C0850" class="med2" stroke="#2C0850"><tspan x="1364.62" textLength="89.08">40%</tspan></text>
<text transform="scale(1.0075 1)" y="655.1" font-size="44.5" fill="#2C0850" class="med2" stroke="#2C0850"><tspan x="1601.37" textLength="89.08">26%</tspan></text>
<text transform="scale(0.9828 1)" y="477.1" font-size="44.5" fill="#2C0850" class="med2" stroke="#2C0850"><tspan x="1903.13" textLength="89.08">38%</tspan></text>
<text transform="scale(0.9676 1)" y="1189.7" font-size="41.5" fill="#231F20" class="light"><tspan x="144.15" textLength="65.7">Our</tspan> <tspan x="222.79" textLength="115.14">digital</tspan> <tspan x="345.68" textLength="274.56">transformation</tspan> <tspan x="629.04" textLength="104.21">vision</tspan> <tspan x="740.08" textLength="132.38">crosses</tspan></text>
<text transform="scale(0.9880 1)" y="1237.2" font-size="41.5" fill="#231F20" class="light"><tspan x="249.6" textLength="139.63">internal</tspan> <tspan x="396.25" textLength="253.8">organizational</tspan> <tspan x="657.31" textLength="88.78">units</tspan></text>
<text transform="scale(0.9667 1)" y="1183.3" font-size="41.5" fill="#231F20" class="light"><tspan x="1220.16" textLength="105.4">There</tspan> <tspan x="1334.57" textLength="27.89">is</tspan> <tspan x="1368.48">a</tspan> <tspan x="1399.49" textLength="178.56">high-level</tspan> <tspan x="1583.87" textLength="162.47">roadmap</tspan> <tspan x="1758.66" textLength="51.01">for</tspan> <tspan x="1820.2" textLength="115.29">digital</tspan></text>
<text transform="scale(1.0082 1)" y="1230.8" font-size="41.5" fill="#231F20" class="light"><tspan x="1380.75" textLength="265.27">transformation</tspan></text>
<text transform="scale(1.1078 1)" y="1367.8" font-size="41.5" fill="#231F20" class="med" stroke="#231F20"><tspan x="461.22" textLength="149.98">Banking</tspan></text>
<text transform="scale(1.0717 1)" y="1369.6" font-size="41.5" fill="#231F20" class="med" stroke="#231F20"><tspan x="739.66" textLength="182.27">Insurance</tspan></text>
<text transform="scale(1.1030 1)" y="1369.8" font-size="41.5" fill="#231F20" class="med" stroke="#231F20"><tspan x="987.51" textLength="247.11">Non-financial</tspan> <tspan x="1243.53" textLength="147.31">services</tspan></text>
<text transform="scale(1.0852 1)" y="1504.9" font-size="31.8" fill="#007BB8"><tspan x="34.81" textLength="105.06">Source:</tspan> <tspan x="145.39" textLength="150.91">Capgemini</tspan> <tspan x="302.98" textLength="128.81">Research</tspan> <tspan x="437.11" textLength="127.95">Institute,</tspan> <tspan x="573.26" textLength="95.56">Digital</tspan> <tspan x="674.16" textLength="113.62">Mastery</tspan> <tspan x="796.89" textLength="105.48">Survey;</tspan> <tspan x="909.53" textLength="139.92">April–May</tspan> <tspan x="1059.15" textLength="78.88">2018,</tspan> <tspan x="1141.92" textLength="116.47">N=1,338</tspan> <tspan x="1265.73" textLength="131.96">all-sector</tspan> <tspan x="1404.59" textLength="187.76">respondents,</tspan> <tspan x="1597.7" textLength="91.08">N=757</tspan> <tspan x="1695.89" textLength="132.14">all-sector</tspan></text>
<text transform="scale(1.0905 1)" y="1547.2" font-size="31.8" fill="#007BB8"><tspan x="34.88" textLength="200.85">organizations,</tspan> <tspan x="239.69" textLength="92.8">N=200</tspan> <tspan x="340.06" textLength="111.99">banking</tspan> <tspan x="458.27" textLength="187.52">respondents,</tspan> <tspan x="651.08" textLength="90.87">N=125</tspan> <tspan x="749.07" textLength="112.44">banking</tspan> <tspan x="868.02" textLength="201.13">organizations,</tspan> <tspan x="1073.84" textLength="90.66">N=169</tspan> <tspan x="1170.57" textLength="134.67">insurance</tspan> <tspan x="1312.5" textLength="186.7">respondents,</tspan> <tspan x="1505.13" textLength="75.89">N=88</tspan> <tspan x="1588.47" textLength="135.22">insurance</tspan> <tspan x="1731.15" textLength="200.12">organizations,</tspan></text>
<text transform="scale(1.0939 1)" y="1588.7" font-size="31.8" fill="#007BB8"><tspan x="34.25" textLength="91.39">N=969</tspan> <tspan x="132.86" textLength="184.58">non-financial</tspan> <tspan x="323.43" textLength="113.1">services</tspan> <tspan x="442.54" textLength="186.39">respondents,</tspan> <tspan x="634.74" textLength="92.56">N=544</tspan> <tspan x="734.82" textLength="184.21">non-financial</tspan> <tspan x="925.84" textLength="112.92">services</tspan> <tspan x="1045.89" textLength="190.89">organizations</tspan></text>
<rect x="459.3" y="1335.1" width="32.7" height="31.7" fill="#C9308A"/>
<rect x="744.8" y="1335.1" width="32.2" height="31.7" fill="#5E66AF"/>
<rect x="1041.1" y="1335.1" width="32.5" height="31.7" fill="#145B69"/>
</g>
</svg>
</body>
</html>
